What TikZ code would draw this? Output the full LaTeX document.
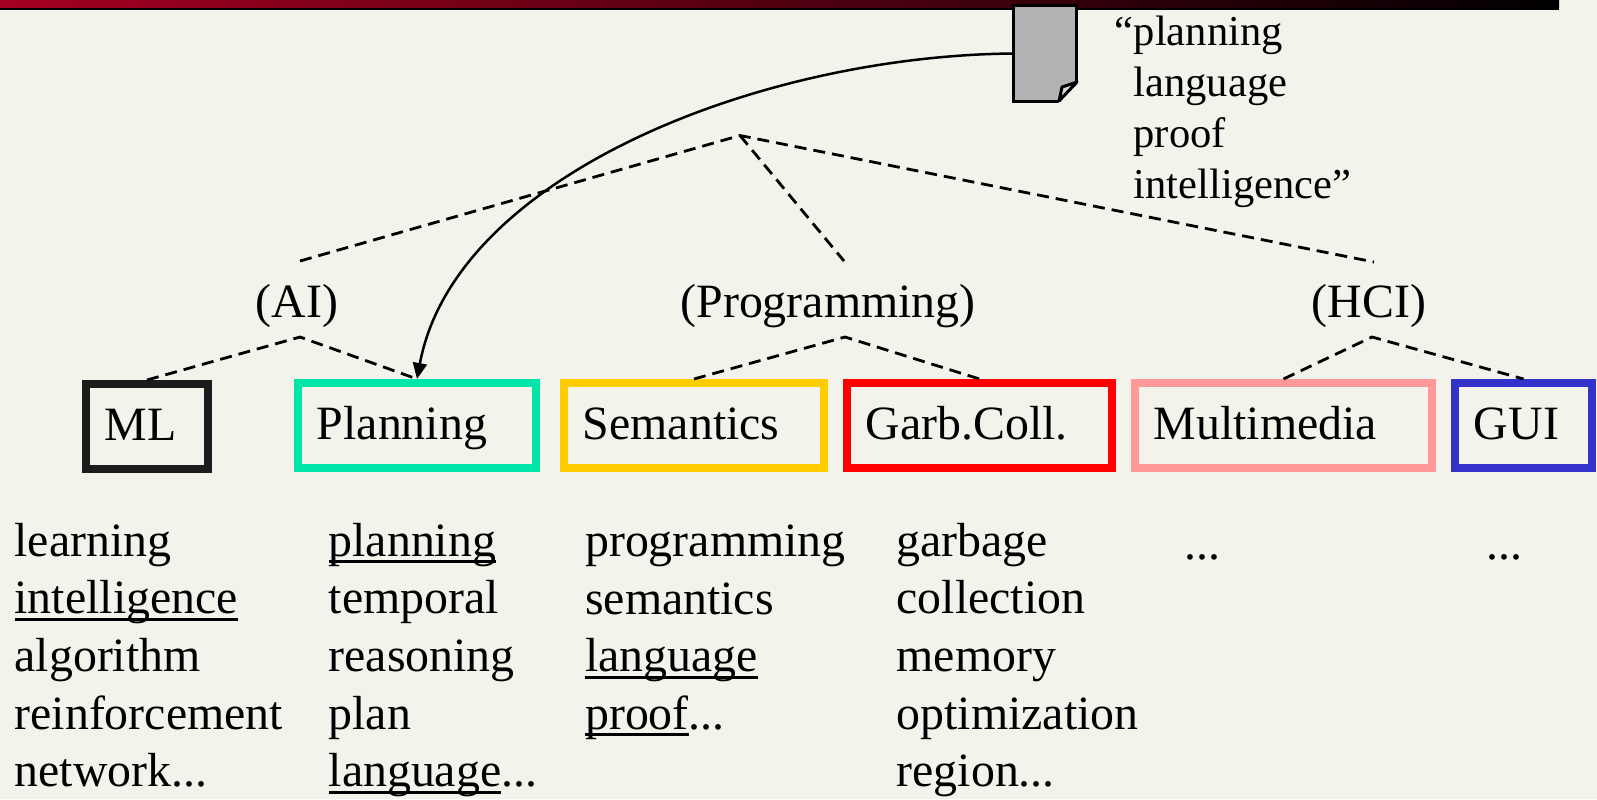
\documentclass[tikz,border=0pt]{standalone}
\usepackage{fontspec}
\setmainfont{Liberation Serif}
\usetikzlibrary{arrows.meta}
\definecolor{paper}{HTML}{F3F2EB}
\definecolor{mlblack}{HTML}{1C1C1C}
\definecolor{planninggreen}{HTML}{00E5A8}
\definecolor{semanticsyellow}{HTML}{FFCC00}
\definecolor{garbred}{HTML}{FF0000}
\definecolor{mediapink}{HTML}{FF9999}
\definecolor{guiblue}{HTML}{3333CC}
\definecolor{barred}{HTML}{A50021}
\newcommand{\hit}[1]{\leavevmode\setbox0\hbox{#1}\rlap{\rule[-0.07cm]{\wd0}{0.03cm}}\box0}
\tikzstyle{category} = [rectangle, line width=0.08cm, minimum height=0.85cm, inner xsep=0.19cm, inner ysep=0cm, align=left, text height=0.39cm, text depth=0.12cm, font=\fontsize{13.6}{16.4}\selectfont]
\tikzstyle{area} = [font=\fontsize{13.6}{16.4}\selectfont, inner sep=0cm, anchor=base]
\tikzstyle{wordlist} = [font=\fontsize{13.6}{16.36}\selectfont, inner sep=0cm, anchor=north west, align=left]
\tikzstyle{tree} = [dashed, dash pattern=on 0.12cm off 0.07cm, line width=0.028cm]
\tikzstyle{arrow} = [line width=0.025cm, -{Stealth[length=0.16cm, width=0.14cm, inset=0pt]}]

\begin{document}
\begin{tikzpicture}[x=0.01cm, y=-0.01cm]

    % Page
    \useasboundingbox (0,0) rectangle (1597,799);
    \fill [paper] (0,0) rectangle (1597,799);
    \shade [left color=barred, right color=black] (0,0) rectangle (1559,7.5);
    \fill [black] (0,7.5) rectangle (1559,10);

    % Document
    \node (doc) [rectangle, draw=black, fill=black!30, line width=0.03cm, minimum width=0.62cm, minimum height=0.95cm, inner sep=0cm] at (1045,53.5) {};
    \fill [paper] (1059,102) -- (1078,81) -- (1078,103) -- (1058,103) -- cycle;
    \draw [line width=0.03cm, fill=black!15, line join=round] (1059,101) -- (1077,82) -- (1062,87) -- cycle;
    \node (query) [wordlist, font=\fontsize{12.1}{14.5}\selectfont] at (1133,15) {\llap{“}planning\\language\\proof\\intelligence”};

    % Categories
    \node (ml) [category, draw=mlblack, text width=0.84cm] at (147,426.5) {ML};
    \node (planning) [category, draw=planninggreen, text width=2cm] at (417,425.5) {Planning};
    \node (semantics) [category, draw=semanticsyellow, text width=2.22cm] at (694,425.5) {Semantics};
    \node (garb) [category, draw=garbred, text width=2.27cm] at (979.5,425.5) {Garb.Coll.};
    \node (media) [category, draw=mediapink, text width=2.59cm] at (1283.5,425.5) {Multimedia};
    \node (gui) [category, draw=guiblue, text width=0.99cm] at (1523.5,425.5) {GUI};

    % Labels
    \node (ai) [area] at (297,317) {(AI)};
    \node (prog) [area] at (828,317) {(Programming)};
    \node (hci) [area] at (1369,317) {(HCI)};

    % Words
    \node (mlwords) [wordlist] at (14,522.5) {learning\\\hit{intelligence}\\algorithm\\reinforcement\\network...};
    \node (planningwords) [wordlist] at (328,522.5) {\hit{planning}\\temporal\\reasoning\\plan\\\hit{language}...};
    \node (semanticswords) [wordlist] at (584.5,524.5) {programming\\semantics\\\hit{language}\\\hit{proof}...};
    \node (garbwords) [wordlist] at (896,522.5) {garbage\\collection\\memory\\optimization\\region...};
    \node (mediawords) [wordlist] at (1184,553.5) {...};
    \node (guiwords) [wordlist] at (1486,553.5) {...};

    % Forks
    \coordinate (root) at (740,135.5);
    \coordinate (aitop) at (300,261);
    \coordinate (progtop) at (844,261);
    \coordinate (hcitop) at (1374,262);
    \coordinate (aifork) at (300,337);
    \coordinate (progfork) at (845,337);
    \coordinate (hcifork) at (1372,337);

    % Arrows
    \draw [tree] (aitop) -- (root) -- (hcitop);
    \draw [tree] (root) -- (progtop);
    \draw [tree] (ml.north) -- (aifork) -- (planning.north);
    \draw [tree] (semantics.north) -- (progfork) -- (garb.north);
    \draw [tree] (media.north) -- (hcifork) -- (gui.north);
    \draw [arrow] (doc.west) .. controls (760,56) and (455,175) .. (planning.north);

\end{tikzpicture}
\end{document}
